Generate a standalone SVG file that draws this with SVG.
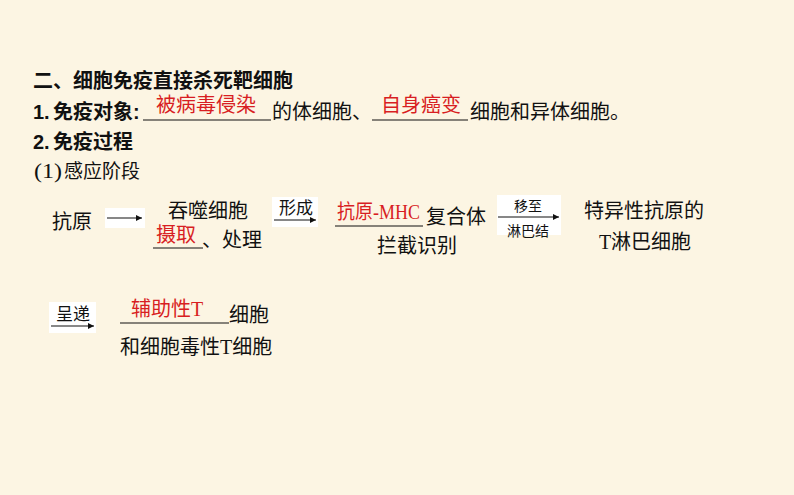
<svg xmlns="http://www.w3.org/2000/svg" width="794" height="495" viewBox="0 0 794 495">
<defs>
<style>
.t{font-family:"Liberation Sans","Noto Sans CJK SC",sans-serif;font-size:20px;fill:#111}
.b{font-weight:bold}
.s{font-family:"Liberation Serif","Noto Sans CJK SC",serif;font-size:20px;fill:#111}
.r{fill:#D81E22}
.lb{font-family:"Liberation Serif","Noto Sans CJK SC",serif;font-size:17px;fill:#111}
.sm{font-size:14px}
.ul{stroke:#111;stroke-width:1.2}
.ar{stroke:#111;stroke-width:1.2;fill:none}
.box{fill:#fff}
</style>
<marker id="ah" viewBox="0 0 10 10" refX="10" refY="5" markerWidth="8" markerHeight="6" markerUnits="userSpaceOnUse" orient="auto">
<path d="M0,0 L10,5 L0,10 z" fill="#111"/>
</marker>
</defs>
<rect width="794" height="495" fill="#FCF5E3"/>

<g id="heading">
<text class="t b" x="33" y="88">二、细胞免疫直接杀死靶细胞</text>
</g>
<g id="line1">
<text class="t b" x="33" y="119">1.</text>
<text class="t b" x="53" y="119">免疫对象:</text>
<line class="ul" x1="143" y1="120" x2="271" y2="120"/>
<text class="t r" x="206" y="112" text-anchor="middle">被病毒侵染</text>
<text class="t" x="272" y="119">的体细胞、</text>
<line class="ul" x1="372" y1="120" x2="468" y2="120"/>
<text class="t r" x="421" y="112" text-anchor="middle">自身癌变</text>
<text class="t" x="470" y="119">细胞和异体细胞。</text>
</g>
<g id="line2">
<text class="t b" x="33" y="149">2.</text>
<text class="t b" x="53" y="149">免疫过程</text>
</g>
<g id="line3">
<text class="s" x="34" y="178" textLength="28" lengthAdjust="spacingAndGlyphs">(1)</text>
<text class="s" x="64" y="178" style="font-size:19px">感应阶段</text>
</g>

<g id="connectors">
<rect class="box" x="105" y="208" width="40" height="20"/>
<line class="ar" x1="107" y1="218" x2="142" y2="218" marker-end="url(#ah)"/>
<rect class="box" x="272" y="197" width="46" height="30"/>
<line class="ar" x1="274" y1="220" x2="316" y2="220" marker-end="url(#ah)"/>
<rect class="box" x="497" y="195" width="64" height="40"/>
<line class="ar" x1="498" y1="217" x2="559" y2="217" marker-end="url(#ah)"/>
<rect class="box" x="49" y="302" width="47" height="31"/>
<line class="ar" x1="51" y1="326" x2="94" y2="326" marker-end="url(#ah)"/>
</g>
<g id="arrow-labels">
<text class="lb" x="296" y="214" text-anchor="middle">形成</text>
<text class="lb sm" x="528" y="211" text-anchor="middle">移至</text>
<text class="lb sm" x="528" y="236" text-anchor="middle">淋巴结</text>
<text class="lb" x="73" y="320" text-anchor="middle">呈递</text>
</g>

<g id="node-antigen">
<text class="s" x="52" y="229">抗原</text>
</g>
<g id="node-phagocyte">
<text class="s" x="168" y="218">吞噬细胞</text>
<line class="ul" x1="153" y1="248" x2="203" y2="248"/>
<text class="s r" x="176" y="242" text-anchor="middle">摄取</text>
<text class="s" x="202" y="247">、处理</text>
</g>
<g id="node-mhc">
<line class="ul" x1="335" y1="226" x2="423" y2="226"/>
<text class="s r" x="337" y="219" textLength="83" lengthAdjust="spacingAndGlyphs">抗原-MHC</text>
<text class="s" x="426" y="224">复合体</text>
<text class="s" x="377" y="253">拦截识别</text>
</g>
<g id="node-tcell">
<text class="s" x="644" y="218" text-anchor="middle">特异性抗原的</text>
<text class="s" x="645" y="249" text-anchor="middle">T淋巴细胞</text>
</g>
<g id="node-helper">
<line class="ul" x1="120" y1="323" x2="229" y2="323"/>
<text class="s r" x="167" y="316" text-anchor="middle">辅助性T</text>
<text class="s" x="229" y="322">细胞</text>
<text class="s" x="120" y="354">和细胞毒性T细胞</text>
</g>
</svg>
